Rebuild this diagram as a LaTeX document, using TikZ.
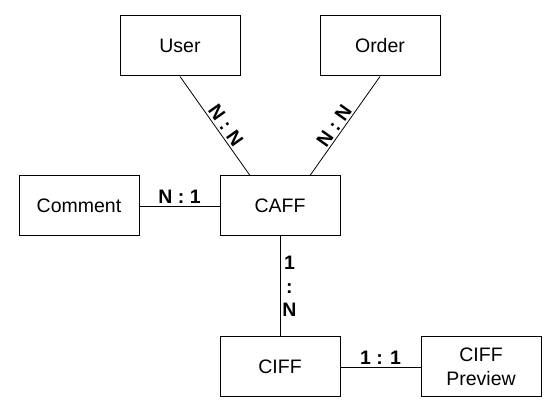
\documentclass[tikz,border=0pt]{standalone}
\usepackage{fontspec}
\setmainfont{Liberation Sans}
\usetikzlibrary{positioning}
\newcommand\erfont{\fontsize{19.5}{23.5}\selectfont}
\tikzset{entity/.style={draw,line width=1pt,minimum width=120pt,minimum height=60pt,
 align=center,inner sep=2pt},card/.style={font=\erfont\bfseries,inner sep=2pt},
 rel/.style={draw,line width=.8pt}}
\begin{document}
\begin{tikzpicture}[x=1pt,y=1pt,every node/.style={font=\erfont}]
\useasboundingbox (0,0) rectangle (553,411);
\node[entity] (caff) at (280,205) {CAFF};
\node[entity] (user) at (180,365) {User};
\node[entity] (order) at (380,365) {Order};
\node[entity,left=80pt of caff] (comment) {Comment};
\node[entity,below=100pt of caff] (ciff) {CIFF};
\node[entity,right=80pt of ciff] (preview) {CIFF\\Preview};
\draw[rel] (user.south) -- node[card,sloped,above,pos=.55]{N : N} ([xshift=-30pt]caff.north);
\draw[rel] ([xshift=30pt]caff.north) -- node[card,sloped,above,pos=.45]{N : N} (order.south);
\draw[rel] (comment) -- node[card,above]{N : 1} (caff);
\draw[rel] (caff) -- node[card,right,align=center]{1\\:\\N} (ciff);
\draw[rel] (ciff) -- node[card,above]{1 : 1} (preview);
\end{tikzpicture}
\end{document}
